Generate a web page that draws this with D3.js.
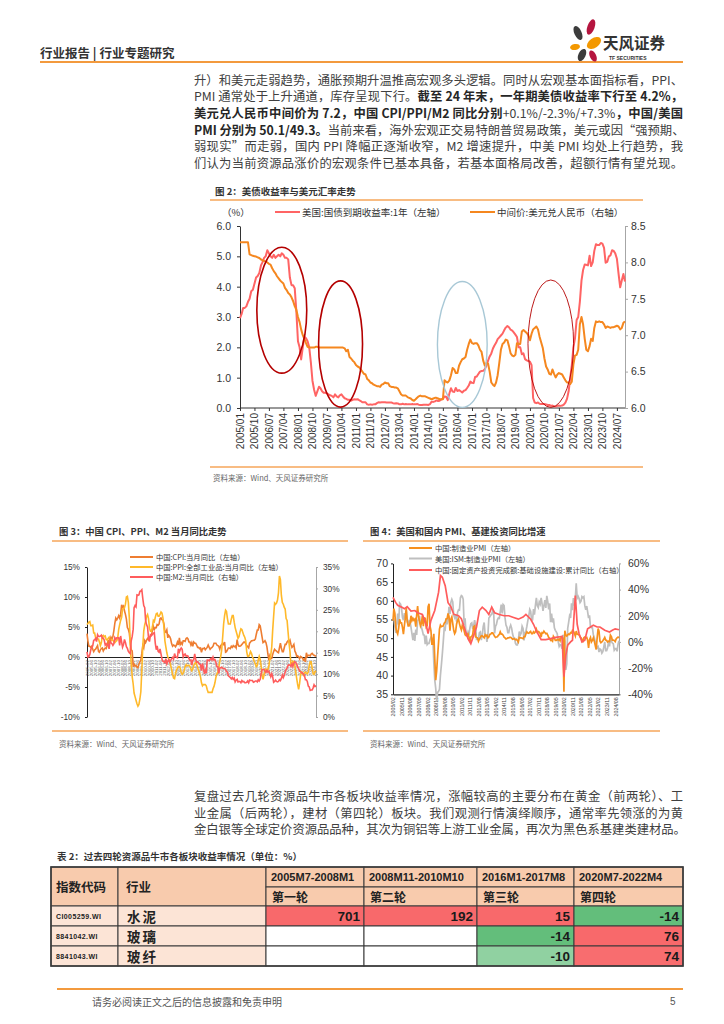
<!DOCTYPE html>
<html><head><meta charset="utf-8"><title>行业专题研究</title>
<script src="https://cdn.jsdelivr.net/npm/d3@7/dist/d3.min.js"></script>
<style>
html,body{margin:0;padding:0;background:#fff}
#wrap{position:relative;width:724px;height:1024px;overflow:hidden;font-family:"Noto Sans CJK SC",sans-serif}
svg{position:absolute;left:0;top:0}
.para{position:absolute;left:194px;width:489px;font-size:12.3px;line-height:16.7px;color:#404040}
.para div{text-align:justify;text-align-last:justify;white-space:nowrap;height:16.7px}
.para b{font-weight:700;color:#262626}
</style></head>
<body><div id="wrap"><svg id="page" width="724" height="1024"></svg>
<div class="para" id="p1" style="top:71.6px"></div>
<div class="para" id="p2" style="top:788px"></div>
</div>
<script>
// ---------------- text ----------------
const para1 = [
 "升）和美元走弱趋势，通胀预期升温推高宏观多头逻辑。同时从宏观基本面指标看，PPI、",
 "PMI 通常处于上升通道，库存呈现下行。<b>截至 24 年末，一年期美债收益率下行至 4.2%，</b>",
 "<b>美元兑人民币中间价为 7.2，中国 CPI/PPI/M2 同比分别</b>+0.1%/-2.3%/+7.3%<b>，中国/美国</b>",
 "<b>PMI 分别为 50.1/49.3。</b>当前来看，海外宏观正交易特朗普贸易政策，美元或因“强预期、",
 "弱现实”而走弱，国内 PPI 降幅正逐渐收窄，M2 增速提升，中美 PMI 均处上行趋势，我",
 "们认为当前资源品涨价的宏观条件已基本具备，若基本面格局改善，超额行情有望兑现。"
];
const para2 = [
 "复盘过去几轮资源品牛市各板块收益率情况，涨幅较高的主要分布在黄金（前两轮）、工",
 "业金属（后两轮），建材（第四轮）板块。我们观测行情演绎顺序，通常率先领涨的为黄",
 "金白银等全球定价资源品品种，其次为铜铝等上游工业金属，再次为黑色系基建类建材品。"
];

// ---------------- chart 1 data (monthly, 2005/01 – 2024/12) ----------------
const chart1Start = "2005-01";
const usYield1Y = [
 2.96,3.10,3.30,3.30,3.35,3.50,3.60,3.85,3.90,4.10,4.30,4.35,
 4.45,4.70,4.80,4.95,5.00,5.20,5.10,5.00,4.95,5.05,4.95,5.00,
 5.05,5.00,5.10,5.05,4.95,4.95,4.90,4.30,4.05,4.05,3.95,3.20,
 2.20,2.00,1.60,2.00,2.35,2.30,2.20,2.00,1.50,0.90,0.60,0.40,
 0.55,0.70,0.65,0.55,0.50,0.50,0.48,0.45,0.42,0.40,0.35,0.45,
 0.38,0.35,0.42,0.45,0.38,0.32,0.30,0.27,0.27,0.24,0.27,0.29,
 0.28,0.29,0.26,0.23,0.19,0.19,0.19,0.12,0.11,0.12,0.11,0.12,
 0.12,0.16,0.19,0.18,0.19,0.19,0.19,0.18,0.18,0.18,0.18,0.16,
 0.15,0.16,0.15,0.12,0.12,0.14,0.12,0.13,0.12,0.12,0.12,0.13,
 0.12,0.12,0.13,0.11,0.10,0.10,0.11,0.11,0.11,0.10,0.13,0.21,
 0.20,0.22,0.25,0.23,0.24,0.28,0.30,0.38,0.37,0.26,0.48,0.65,
 0.54,0.53,0.66,0.56,0.59,0.55,0.51,0.57,0.59,0.66,0.74,0.87,
 0.83,0.82,1.02,1.04,1.12,1.20,1.22,1.23,1.28,1.40,1.56,1.70,
 1.80,1.96,2.06,2.15,2.27,2.33,2.39,2.45,2.56,2.65,2.70,2.66,
 2.58,2.55,2.49,2.42,2.34,2.00,2.00,1.77,1.80,1.61,1.57,1.55,
 1.53,1.41,0.33,0.18,0.16,0.18,0.14,0.13,0.13,0.13,0.12,0.10,
 0.10,0.07,0.08,0.06,0.05,0.07,0.08,0.07,0.08,0.11,0.18,0.30,
 0.55,1.00,1.40,2.00,2.30,2.90,3.00,3.50,4.20,4.55,4.73,4.72,
 4.70,5.02,4.68,4.80,5.18,5.40,5.37,5.37,5.44,5.42,5.28,4.79,
 4.82,5.00,5.03,5.20,5.18,5.09,4.92,4.43,3.98,4.20,4.42,4.17
];
const usdCny = [
 8.2765,8.2765,8.2765,8.2765,8.2765,8.2765,8.11,8.10,8.09,8.085,8.08,8.07,
 8.06,8.04,8.03,8.02,8.01,8.00,7.98,7.97,7.92,7.88,7.85,7.81,
 7.78,7.75,7.73,7.71,7.65,7.62,7.58,7.56,7.52,7.47,7.40,7.35,
 7.25,7.18,7.08,7.00,6.95,6.89,6.84,6.83,6.83,6.83,6.83,6.84,
 6.84,6.83,6.83,6.83,6.83,6.83,6.83,6.83,6.83,6.83,6.83,6.83,
 6.83,6.83,6.83,6.83,6.83,6.82,6.78,6.80,6.70,6.68,6.65,6.63,
 6.59,6.57,6.56,6.53,6.50,6.47,6.46,6.40,6.38,6.35,6.34,6.32,
 6.31,6.30,6.30,6.29,6.32,6.33,6.35,6.34,6.34,6.30,6.29,6.29,
 6.28,6.28,6.27,6.23,6.19,6.17,6.17,6.17,6.15,6.14,6.13,6.11,
 6.10,6.12,6.14,6.16,6.17,6.16,6.16,6.16,6.15,6.14,6.13,6.12,
 6.13,6.14,6.14,6.13,6.12,6.12,6.12,6.38,6.36,6.35,6.38,6.45,
 6.55,6.53,6.48,6.48,6.58,6.63,6.67,6.68,6.70,6.80,6.88,6.94,
 6.89,6.88,6.89,6.89,6.86,6.80,6.77,6.65,6.58,6.62,6.61,6.50,
 6.35,6.32,6.30,6.35,6.45,6.62,6.80,6.88,6.90,6.94,6.93,6.85,
 6.75,6.72,6.71,6.73,6.89,6.88,6.88,7.05,7.07,7.05,7.03,7.00,
 6.93,7.02,7.08,7.10,7.12,7.08,6.98,6.90,6.82,6.68,6.57,6.53,
 6.47,6.46,6.53,6.47,6.42,6.46,6.48,6.47,6.46,6.42,6.38,6.35,
 6.35,6.33,6.36,6.60,6.72,6.73,6.80,7.15,7.25,7.15,6.95,6.80,
 6.78,6.85,6.95,6.92,7.10,7.19,7.18,7.19,7.18,7.18,7.15,7.10,
 7.12,7.11,7.10,7.11,7.11,7.12,7.13,7.12,7.08,7.10,7.17,7.19
];
const chart1XLabels = ["2005/01","2005/10","2006/07","2007/04","2008/01","2008/10","2009/07","2010/04","2011/01","2011/10","2012/07","2013/04","2014/01","2014/10","2015/07","2016/04","2017/01","2017/10","2018/07","2019/04","2020/01","2020/10","2021/07","2022/04","2023/01","2023/10","2024/07"];
const chart1LeftTicks = [0,1,2,3,4,5,6];
const chart1RightTicks = [6.0,6.5,7.0,7.5,8.0,8.5];
const chart1Legend = ["美国:国债到期收益率:1年（左轴）","中间价:美元兑人民币（右轴）"];
// annotation ellipses: date span and left-axis value span
const chart1Circles = [
 {from:"2005-11-15", to:"2008-06-15", lo:1.15, hi:5.3, kind:"dark"},
 {from:"2009-01-25", to:"2011-05-05", lo:0.03, hi:4.19, kind:"dark"},
 {from:"2015-03-20", to:"2017-10-15", lo:0.02, hi:4.17, kind:"blue"},
 {from:"2019-11-25", to:"2022-04-05", lo:0.02, hi:4.22, kind:"thin"}
];

// ---------------- chart 3 data (monthly, 2005/02 – 2024/12) ----------------
const chart3Start = "2005-02";
const cnCPI = [
 3.9,2.7,1.8,1.8,1.6,1.8,1.3,0.9,1.2,1.3,1.6,
 1.9,0.9,0.8,1.2,1.4,1.5,1.0,1.3,1.5,1.4,1.9,2.8,
 2.2,2.7,3.3,3.0,3.4,4.4,5.6,6.5,6.2,6.5,6.9,6.5,
 7.1,8.7,8.3,8.5,7.7,7.1,6.3,4.9,4.6,4.0,2.4,1.2,
 1.0,-1.6,-1.2,-1.5,-1.4,-1.7,-1.8,-1.2,-0.8,-0.5,0.6,1.9,
 1.5,2.7,2.4,2.8,3.1,2.9,3.3,3.5,3.6,4.4,5.1,4.6,
 4.9,4.9,5.4,5.3,5.5,6.4,6.5,6.2,6.1,5.5,4.2,4.1,
 4.5,3.2,3.6,3.4,3.0,2.2,1.8,2.0,1.9,1.7,2.0,2.5,
 2.0,3.2,2.1,2.4,2.1,2.7,2.7,2.6,3.1,3.2,3.0,2.5,
 2.5,2.0,2.4,1.8,2.5,2.3,2.3,2.0,1.6,1.6,1.4,1.5,
 0.8,1.4,1.4,1.5,1.2,1.4,1.6,2.0,1.6,1.3,1.5,1.6,
 1.8,2.3,2.3,2.3,2.0,1.9,1.8,1.3,1.9,2.1,2.3,2.1,
 2.5,0.8,0.9,1.2,1.5,1.5,1.4,1.8,1.6,1.9,1.7,1.8,
 1.5,2.9,2.1,1.8,1.8,1.9,2.1,2.3,2.5,2.5,2.2,1.9,
 1.7,1.5,2.3,2.5,2.7,2.7,2.8,2.8,3.0,3.8,4.5,4.5,
 5.4,5.2,4.3,3.3,2.4,2.5,2.7,2.4,1.7,0.5,-0.5,0.2,
 -0.3,-0.2,0.4,0.9,1.3,1.1,1.0,0.8,0.7,1.5,2.3,1.5,
 0.9,0.9,1.5,2.1,2.1,2.5,2.7,2.5,2.8,2.1,1.6,1.8,
 2.1,1.0,0.7,0.1,0.2,0.0,-0.3,0.1,0.0,-0.2,-0.5,-0.3,
 -0.8,0.7,0.1,0.3,0.3,0.2,0.5,0.6,0.4,0.3,0.2,0.1
];
const cnPPI = [
 5.4,5.6,5.8,5.9,5.2,5.2,5.3,4.0,4.0,3.2,3.2,
 3.0,3.0,2.5,1.9,2.4,3.5,3.6,3.4,3.5,2.9,2.8,3.1,
 3.3,2.6,2.7,2.9,2.8,2.5,2.4,2.6,2.7,3.2,4.6,5.4,
 6.1,6.6,8.0,8.1,8.2,8.8,10.0,10.1,9.1,6.6,2.0,-1.1,
 -3.3,-4.5,-6.0,-6.6,-7.2,-7.8,-8.2,-7.9,-7.0,-5.8,-2.1,1.7,
 4.3,5.4,5.9,6.8,7.1,6.4,4.8,4.3,4.3,5.0,6.1,5.9,
 6.6,7.2,7.3,6.8,6.8,7.1,7.5,7.3,6.5,5.0,2.7,1.7,
 0.7,0.0,-0.3,-0.7,-1.4,-2.1,-2.9,-3.5,-3.6,-2.8,-2.2,-1.9,
 -1.6,-1.6,-1.9,-2.6,-2.9,-2.7,-2.3,-1.6,-1.3,-1.5,-1.4,-1.4,
 -1.6,-2.0,-2.3,-2.0,-1.4,-1.1,-0.9,-1.2,-1.8,-2.2,-2.7,-3.3,
 -4.3,-4.8,-4.6,-4.6,-4.6,-4.8,-5.4,-5.9,-5.9,-5.9,-5.9,-5.9,
 -5.3,-4.9,-4.3,-3.4,-2.8,-2.6,-1.7,-0.8,0.1,1.2,3.3,5.5,
 6.9,7.8,7.6,6.4,5.5,5.5,5.5,6.3,6.9,6.9,5.8,4.9,
 4.3,3.7,3.1,3.4,4.1,4.7,4.6,4.1,3.6,3.3,2.7,0.9,
 0.1,0.1,0.4,0.9,0.6,0.0,-0.3,-0.8,-1.2,-1.6,-1.4,-0.5,
 0.1,-0.4,-1.5,-3.1,-3.7,-3.0,-2.4,-2.0,-2.1,-2.1,-1.5,-0.4,
 0.3,1.7,4.4,6.8,9.0,8.8,9.0,9.5,10.7,13.5,12.9,10.3,
 9.1,8.8,8.3,8.0,6.4,6.1,4.2,2.3,0.9,-1.3,-1.3,-0.7,
 -0.8,-1.4,-2.5,-3.6,-4.6,-5.4,-4.4,-3.0,-2.5,-2.6,-3.0,-2.7,
 -2.5,-2.7,-2.8,-2.5,-1.4,-0.8,-0.8,-1.8,-2.8,-2.9,-2.5,-2.3
];
const cnM2 = [
 15.2,14.0,14.1,14.6,15.7,16.3,16.6,17.9,18.0,18.3,17.6,
 19.2,18.8,18.8,18.9,19.1,18.4,18.4,17.9,16.8,17.1,16.8,16.9,
 15.9,17.8,17.3,17.1,16.7,17.1,18.5,18.1,18.5,18.5,18.5,16.7,
 18.9,17.5,16.3,16.9,18.1,17.4,16.4,16.0,15.3,15.0,14.8,17.8,
 18.8,20.5,25.5,26.0,25.7,28.5,28.4,28.5,29.3,29.4,29.7,27.7,
 26.0,25.5,22.5,21.5,21.0,18.5,17.6,19.2,19.0,19.3,19.5,19.7,
 17.2,15.7,16.6,15.3,15.1,15.9,14.7,13.5,13.0,12.9,12.7,13.6,
 12.4,13.0,13.4,12.8,13.2,13.6,13.9,13.5,14.8,14.1,13.9,13.8,
 15.9,15.2,15.7,16.1,15.8,14.0,14.5,14.7,14.2,14.3,14.2,13.6,
 13.2,13.3,12.1,13.2,13.4,14.7,13.5,12.8,12.9,12.6,12.3,12.2,
 10.8,12.5,11.6,10.1,10.8,10.2,13.3,13.3,13.1,13.5,13.7,13.3,
 14.0,13.3,13.4,12.8,11.8,11.8,10.2,11.4,11.5,11.6,11.4,11.3,
 11.3,11.1,10.6,10.5,9.6,9.4,9.2,8.9,9.2,8.8,9.1,8.2,
 8.6,8.8,8.2,8.3,8.3,8.0,8.5,8.2,8.3,8.0,8.0,8.1,
 8.4,8.0,8.6,8.5,8.5,8.5,8.1,8.2,8.4,8.4,8.2,8.7,
 8.4,8.8,10.1,11.1,11.1,11.1,10.7,10.4,10.9,10.5,10.7,10.1,
 9.4,10.1,9.4,8.1,8.3,8.6,8.3,8.2,8.3,8.7,8.5,9.0,
 9.8,9.2,9.7,10.5,11.1,11.4,12.0,12.2,12.1,11.8,12.4,11.8,
 12.6,12.9,12.7,12.4,11.6,11.3,10.7,10.6,10.3,10.3,10.0,9.7,
 8.7,8.7,8.3,7.2,7.0,6.2,6.3,6.3,6.8,7.5,7.1,7.3
];
const chart3LeftTicks = [-10,-5,0,5,10,15];
const chart3RightTicks = [0,5,10,15,20,25,30,35];
const chart3Legend = ["中国:CPI:当月同比（左轴）","中国:PPI:全部工业品:当月同比（左轴）","中国:M2:当月同比（右轴）"];

// ---------------- chart 4 data (monthly, 2005/02 – 2024/12) ----------------
const chart4Start = "2005-02";
const cnPMI = [
 54.7,57.9,56.7,52.9,51.7,51.1,52.6,55.1,54.1,54.1,52.9,
 51.1,53.4,55.3,58.1,54.8,53.3,53.3,54.0,56.0,54.7,55.3,54.8,
 55.1,53.1,56.1,58.6,55.8,54.5,53.3,54.0,56.1,53.2,55.4,55.3,
 53.0,53.4,58.4,59.2,53.3,52.0,48.4,48.4,51.2,44.6,38.8,41.2,
 45.3,49.0,52.4,53.5,53.1,53.2,53.3,54.0,54.3,55.2,55.2,56.6,
 55.8,52.0,55.1,55.7,53.9,52.1,51.2,51.7,53.8,54.7,55.2,53.9,
 52.9,52.2,53.4,52.9,52.0,50.9,50.7,50.9,51.2,50.4,49.0,50.3,
 50.5,51.0,53.1,53.3,50.4,50.2,50.1,49.2,49.8,50.2,50.6,50.6,
 50.4,50.1,50.9,50.6,50.8,50.1,50.3,51.0,51.1,51.4,51.4,51.0,
 50.5,50.2,50.3,50.4,50.8,51.0,51.7,51.1,51.1,50.8,50.3,50.1,
 49.8,49.9,50.1,50.1,50.2,50.2,50.0,49.7,49.8,49.8,49.6,49.7,
 49.4,49.0,50.2,50.1,50.1,50.0,49.9,50.4,50.4,51.2,51.7,51.4,
 51.3,51.6,51.8,51.2,51.2,51.7,51.4,51.7,52.4,51.6,51.8,51.6,
 51.3,50.3,51.5,51.4,51.9,51.5,51.2,51.3,50.8,50.2,50.0,49.4,
 49.5,49.2,50.5,50.1,49.4,49.4,49.7,49.5,49.8,49.3,50.2,50.2,
 50.0,35.7,52.0,50.8,50.6,50.9,51.1,51.0,51.5,51.4,52.1,51.9,
 51.3,50.6,51.9,51.1,51.0,50.9,50.4,50.1,49.6,49.2,50.1,50.3,
 50.1,50.2,49.5,47.4,49.6,50.2,49.0,49.4,50.1,49.2,48.0,47.0,
 50.1,52.6,51.9,49.2,48.8,49.0,49.3,49.7,50.2,49.5,49.4,49.0,
 49.2,49.1,50.8,50.4,49.5,49.5,49.4,49.1,49.8,50.1,50.3,50.1
];
const usISM = [
 55.3,55.2,53.3,51.4,53.8,56.6,53.6,59.4,59.1,58.1,55.6,
 54.8,56.7,55.2,57.3,54.4,53.8,54.7,54.5,52.9,51.2,49.5,51.4,
 49.3,52.3,50.9,54.7,55.0,56.0,53.8,52.9,52.0,50.9,50.8,48.4,
 50.7,48.3,48.6,48.6,49.6,50.2,50.0,49.9,43.5,38.9,36.6,33.1,
 35.5,35.8,36.3,40.1,42.8,45.8,49.1,52.8,52.4,55.2,53.7,54.9,
 58.4,56.5,59.6,60.4,59.7,56.2,55.5,56.3,54.4,56.9,57.6,57.5,
 60.8,61.4,61.2,60.4,53.5,55.3,50.9,50.6,51.6,50.8,52.7,53.9,
 54.1,52.4,53.4,54.8,53.5,49.7,49.8,49.6,51.5,51.7,49.5,50.7,
 53.1,54.2,51.3,50.7,49.0,50.9,55.4,55.7,56.2,56.4,57.3,57.0,
 51.3,53.2,53.7,54.9,55.4,55.3,57.1,59.0,56.6,59.0,58.7,55.5,
 53.5,52.9,51.5,51.5,52.8,53.5,52.7,51.1,50.2,50.1,48.6,48.2,
 48.2,49.5,51.8,50.8,51.3,53.2,52.6,49.4,51.5,51.9,53.2,54.7,
 56.0,57.7,57.2,54.8,54.9,57.8,56.3,58.8,60.8,58.7,58.2,59.7,
 59.1,60.8,59.3,57.3,58.7,60.2,58.1,61.3,59.8,57.7,59.3,54.3,
 56.6,54.2,55.3,52.8,52.1,51.7,51.2,49.1,47.8,48.3,48.1,47.2,
 50.9,50.1,49.1,41.5,43.1,52.6,54.2,56.0,55.4,59.3,57.5,60.7,
 58.7,60.8,64.7,60.7,61.2,60.6,59.5,59.9,61.1,60.8,61.1,58.7,
 57.6,58.6,57.1,55.4,56.1,53.0,52.8,52.8,50.9,50.2,49.0,48.4,
 47.4,47.7,46.3,47.1,46.9,46.0,46.4,47.6,49.0,46.7,46.7,47.4,
 49.1,47.8,50.3,49.2,48.7,48.5,46.8,47.2,47.2,46.5,48.4,49.3
];
const infraFAI = [
 ["2005-02",34],["2005-05",30],["2005-07",28],["2005-11",26.6],["2006-02",25.3],["2006-05",27],["2006-09",23.6],
 ["2007-01",24],["2007-04",22.3],["2007-09",21],["2008-01",13],["2008-03",6.3],["2008-06",16.5],["2008-10",24],
 ["2009-02",38],["2009-04",50.7],["2009-06",49.4],["2009-09",43],["2009-12",30],["2010-03",27],["2010-06",21.2],
 ["2010-11",20],["2011-02",17.7],["2011-05",11.4],["2011-09",2.5],["2011-12",-1.3],["2012-03",5],["2012-06",11.4],
 ["2012-09",24],["2012-12",26.6],["2013-04",24],["2013-07",21],["2013-10",26.6],["2014-01",22.3],["2014-06",21],
 ["2014-11",20],["2015-04",20],["2015-09",18.7],["2016-02",17.4],["2016-07",19],["2016-10",21],["2017-03",17.4],
 ["2017-06",13.5],["2017-09",8.5],["2018-02",1.8],["2018-07",1.8],["2018-12",2.5],["2019-04",3.3],["2019-09",3.8],
 ["2019-12",4.3],["2020-02",-26.6],["2020-04",-10],["2020-06",-2.5],["2020-09",0],["2020-11",1.3],["2021-02",35.5],
 ["2021-04",13.5],["2021-06",6.3],["2021-09",0],["2021-12",1.3],["2022-03",10],["2022-06",11.4],["2022-09",12.7],
 ["2023-01",11.4],["2023-04",11.4],["2023-09",8.9],["2024-02",7.6],["2024-05",8.9],["2024-08",10],["2024-12",9.3]
];
const chart4LeftTicks = [35,40,45,50,55,60,65,70];
const chart4RightTicks = [-40,-20,0,20,40,60];
const chart4XLabels = ["2005/02","2005/11","2006/08","2007/05","2008/02","2008/11","2009/08","2010/05","2011/02","2011/11","2012/08","2013/05","2014/02","2014/11","2015/08","2016/05","2017/02","2017/11","2018/08","2019/05","2020/02","2020/11","2021/08","2022/05","2023/02","2023/11","2024/08"];
const chart4Legend = ["中国:制造业PMI（左轴）","美国:ISM:制造业PMI（左轴）","中国:固定资产投资完成额:基础设施建设:累计同比（右轴）"];

// ---------------- table data ----------------
const tableCodes = ["CI005259.WI","8841042.WI","8841043.WI"];
const tableIndustries = ["水泥","玻璃","玻纤"];
const tablePeriods = ["2005M7-2008M1","2008M11-2010M10","2016M1-2017M8","2020M7-2022M4"];
const tableRounds = ["第一轮","第二轮","第三轮","第四轮"];
const tableValues = [[701,192,15,-14],[null,null,-14,76],[null,null,-10,74]];

// =====================================================================
d3.select("#p1").selectAll("div").data(para1).join("div").html(d=>d);
d3.select("#p2").selectAll("div").data(para2).join("div").html(d=>d);

const svg = d3.select("#page");
const LAT = '"Liberation Sans","Noto Sans CJK SC",sans-serif';
const CJK = '"Noto Sans CJK SC","Liberation Sans",sans-serif';
const RULE = "#F6A65A";
const parseM = d3.timeParse("%Y-%m");
const parseD = d3.timeParse("%Y-%m-%d");
const parseS = d3.timeParse("%Y/%m");
const monthsFrom = (start, n) => d3.range(n).map(i => d3.timeMonth.offset(parseM(start), i));

function text(g, x, y, s, o = {}) {
  return g.append("text").attr("x", x).attr("y", y)
    .attr("font-family", o.family || CJK).attr("font-size", o.size || 10)
    .attr("font-weight", o.weight || 400).attr("fill", o.fill || "#333")
    .attr("text-anchor", o.anchor || "start").attr("dominant-baseline", "central").text(s);
}
function rule(g, x1, x2, y, w = 1.5, c = RULE) {
  g.append("line").attr("x1", x1).attr("x2", x2).attr("y1", y).attr("y2", y).attr("stroke", c).attr("stroke-width", w);
}
function styleAxis(g, lineColor, size, txtColor) {
  g.attr("font-family", LAT).attr("font-size", size);
  g.select(".domain").attr("stroke", lineColor);
  g.selectAll(".tick line").attr("stroke", lineColor);
  g.selectAll(".tick text").attr("fill", txtColor);
}

// ---------------- header ----------------
text(svg, 40, 52, "行业报告 | 行业专题研究", {size: 12.5, weight: 700, fill: "#333"});
rule(svg, 40, 683, 62, 2, "#F39A3D");
const logo = svg.append("g");
[[578,33,3.6,7.5,-25,"#3c3c3c"],[591,27,3.6,8,20,"#B5153F"],[594,43,4.8,8,55,"#F39800"],
 [575,47,5,3,-10,"#F39800"],[582,55,3.6,6.5,25,"#3c3c3c"],[593,56,3.2,6,-25,"#B5153F"]]
 .forEach(p => logo.append("ellipse").attr("cx", p[0]).attr("cy", p[1]).attr("rx", p[2]).attr("ry", p[3])
   .attr("transform", `rotate(${p[4]},${p[0]},${p[1]})`).attr("fill", p[5]));
text(svg, 603, 42, "天风证券", {size: 15.5, weight: 700, fill: "#333"});
text(svg, 609, 58, "TF SECURITIES", {size: 5, weight: 700, fill: "#333", family: LAT});

// ---------------- chart 1 ----------------
(function () {
  const g = svg.append("g");
  text(g, 215, 191, "图 2：美债收益率与美元汇率走势", {size: 9.5, weight: 700});
  rule(g, 210, 643, 200);
  const dates = monthsFrom(chart1Start, usYield1Y.length);
  const x = d3.scaleTime().domain([dates[0], dates[dates.length - 1]]).range([240, 625]);
  const yL = d3.scaleLinear().domain([0, 6]).range([408, 226]);
  const yR = d3.scaleLinear().domain([6, 8.5]).range([408, 226]);

  text(g, 222, 212, "（%）", {size: 9.5});
  const lc = ["#FF6464", "#F5871F"];
  [[275, chart1Legend[0]], [470, chart1Legend[1]]].forEach((d, i) => {
    g.append("line").attr("x1", d[0]).attr("x2", d[0] + 25).attr("y1", 212).attr("y2", 212).attr("stroke", lc[i]).attr("stroke-width", 2);
    text(g, d[0] + 27, 212, d[1], {size: 9.5});
  });

  const ax = g.append("g").attr("transform", "translate(240,0)")
    .call(d3.axisLeft(yL).tickValues(chart1LeftTicks).tickFormat(d3.format(".1f")).tickSize(3).tickSizeOuter(0).tickPadding(6));
  styleAxis(ax, "#333", 10.5, "#333");
  const ar = g.append("g").attr("transform", "translate(625,0)")
    .call(d3.axisRight(yR).tickValues(chart1RightTicks).tickFormat(d3.format(".1f")).tickSize(3).tickSizeOuter(0).tickPadding(3));
  styleAxis(ar, "#a6a6a6", 10.5, "#333");
  const xb = g.append("g").attr("transform", "translate(0,408)")
    .call(d3.axisBottom(x).tickValues(chart1XLabels.map(parseS)).tickFormat(d3.timeFormat("%Y/%m")).tickSize(3).tickSizeOuter(0));
  styleAxis(xb, "#333", 10, "#333");
  xb.select(".domain").attr("d", `M240,0H625`);
  xb.selectAll(".tick text").attr("transform", "rotate(-90)").attr("text-anchor", "end").attr("x", -5).attr("y", 0).attr("dy", "0.35em");

  g.append("path").datum(usYield1Y).attr("fill", "none").attr("stroke", lc[0]).attr("stroke-width", 2).attr("stroke-linejoin", "round")
    .attr("d", d3.line().x((d, i) => x(dates[i])).y(d => yL(d)));
  g.append("path").datum(usdCny).attr("fill", "none").attr("stroke", lc[1]).attr("stroke-width", 2).attr("stroke-linejoin", "round")
    .attr("d", d3.line().x((d, i) => x(dates[i])).y(d => yR(d)));

  const cs = {dark: ["#B40000", 1.6], blue: ["#A8C8D6", 1.4], thin: ["#B40000", 0.9]};
  chart1Circles.forEach(c => {
    const x0 = x(parseD(c.from)), x1 = x(parseD(c.to)), y0 = yL(c.hi), y1 = yL(c.lo);
    g.append("ellipse").attr("cx", (x0 + x1) / 2).attr("cy", (y0 + y1) / 2).attr("rx", (x1 - x0) / 2).attr("ry", (y1 - y0) / 2)
      .attr("fill", "none").attr("stroke", cs[c.kind][0]).attr("stroke-width", cs[c.kind][1]);
  });
  rule(g, 210, 643, 467);
  text(g, 213, 477, "资料来源：Wind、天风证券研究所", {size: 7.5, fill: "#666"});
})();

// ---------------- chart 3 ----------------
(function () {
  const g = svg.append("g");
  text(g, 59, 531, "图 3：中国 CPI、PPI、M2 当月同比走势", {size: 9.3, weight: 700});
  rule(g, 52, 348, 541);
  const dates = monthsFrom(chart3Start, cnCPI.length);
  const x = d3.scaleTime().domain([dates[0], dates[dates.length - 1]]).range([87, 316]);
  const yL = d3.scaleLinear().domain([-10, 15]).range([717, 567]);
  const yR = d3.scaleLinear().domain([0, 35]).range([717, 567]);
  const cols = ["#EE7D31", "#FFB92A", "#FF5C5C"];
  chart3Legend.forEach((s, i) => {
    const y = 557 + i * 10;
    g.append("line").attr("x1", 130).attr("x2", 153).attr("y1", y).attr("y2", y).attr("stroke", cols[i]).attr("stroke-width", 2);
    text(g, 156, y, s, {size: 7.3});
  });
  const pct = d => d + "%";
  const al = g.append("g").attr("transform", "translate(87,0)")
    .call(d3.axisLeft(yL).tickValues(chart3LeftTicks).tickFormat(pct).tickSize(2).tickSizeOuter(0).tickPadding(5));
  styleAxis(al, "#222", 8.3, "#333");
  const ar = g.append("g").attr("transform", "translate(316,0)")
    .call(d3.axisRight(yR).tickValues(chart3RightTicks).tickFormat(pct).tickSize(2).tickSizeOuter(0).tickPadding(5));
  styleAxis(ar, "#a6a6a6", 8.3, "#333");
  const tickDates = dates.filter((d, i) => i % 4 === 0);
  const xb = g.append("g").attr("transform", `translate(0,${yL(0)})`)
    .call(d3.axisBottom(x).tickValues(tickDates).tickFormat(d3.timeFormat("%Y-%m")).tickSize(0).tickSizeOuter(0));
  styleAxis(xb, "#222", 4.4, "#555");
  xb.select(".domain").attr("stroke-width", 1.2);
  xb.selectAll(".tick text").attr("transform", "rotate(-90)").attr("text-anchor", "end").attr("x", -3).attr("y", 0).attr("dy", "0.35em");
  const lineL = d3.line().x((d, i) => x(dates[i])).y(d => yL(d));
  const lineR = d3.line().x((d, i) => x(dates[i])).y(d => yR(d));
  g.append("path").datum(cnCPI).attr("fill", "none").attr("stroke", cols[0]).attr("stroke-width", 1.6).attr("d", lineL);
  g.append("path").datum(cnPPI).attr("fill", "none").attr("stroke", cols[1]).attr("stroke-width", 1.6).attr("d", lineL);
  g.append("path").datum(cnM2).attr("fill", "none").attr("stroke", cols[2]).attr("stroke-width", 1.6).attr("d", lineR);
  rule(g, 52, 348, 731);
  text(g, 59, 743, "资料来源：Wind、天风证券研究所", {size: 7.5, fill: "#666"});
})();

// ---------------- chart 4 ----------------
(function () {
  const g = svg.append("g");
  text(g, 370, 531, "图 4：美国和国内 PMI、基建投资同比增速", {size: 9.3, weight: 700});
  rule(g, 363, 660, 541);
  const dates = monthsFrom(chart4Start, cnPMI.length);
  const x = d3.scaleTime().domain([dates[0], dates[dates.length - 1]]).range([393, 619]);
  const yL = d3.scaleLinear().domain([35, 70]).range([694.3, 563.4]);
  const yR = d3.scaleLinear().domain([-40, 60]).range([694.3, 563.4]);
  const cols = ["#F7901E", "#BFBFBF", "#FF5C5C"];
  const ly = [548, 558.5, 570];
  chart4Legend.forEach((s, i) => {
    g.append("line").attr("x1", 409).attr("x2", 432).attr("y1", ly[i]).attr("y2", ly[i]).attr("stroke", cols[i]).attr("stroke-width", 2);
    text(g, 435, ly[i], s, {size: 7.3});
  });
  const al = g.append("g").attr("transform", "translate(393,0)")
    .call(d3.axisLeft(yL).tickValues(chart4LeftTicks).tickSize(2).tickSizeOuter(0).tickPadding(3));
  styleAxis(al, "#222", 10.5, "#333");
  const ar = g.append("g").attr("transform", "translate(619,0)")
    .call(d3.axisRight(yR).tickValues(chart4RightTicks).tickFormat(d => d + "%").tickSize(2).tickSizeOuter(0).tickPadding(7));
  styleAxis(ar, "#a6a6a6", 10.5, "#333");
  const xb = g.append("g").attr("transform", "translate(0,694.3)")
    .call(d3.axisBottom(x).tickValues(chart4XLabels.map(parseS)).tickFormat(d3.timeFormat("%Y/%m")).tickSize(0).tickSizeOuter(0));
  styleAxis(xb, "#222", 5.3, "#444");
  xb.select(".domain").attr("stroke-width", 1.2);
  xb.selectAll(".tick text").attr("transform", "rotate(-90)").attr("text-anchor", "end").attr("x", -3).attr("y", 0).attr("dy", "0.35em");
  const lineL = d3.line().x((d, i) => x(dates[i])).y(d => yL(d));
  g.append("path").datum(usISM).attr("fill", "none").attr("stroke", cols[1]).attr("stroke-width", 1.7).attr("d", lineL);
  g.append("path").datum(cnPMI).attr("fill", "none").attr("stroke", cols[0]).attr("stroke-width", 1.7).attr("d", lineL);
  g.append("path").datum(infraFAI).attr("fill", "none").attr("stroke", cols[2]).attr("stroke-width", 1.7)
    .attr("d", d3.line().x(d => x(parseM(d[0]))).y(d => yR(d[1])));
  rule(g, 363, 660, 731);
  text(g, 370, 743, "资料来源：Wind、天风证券研究所", {size: 7.5, fill: "#666"});
})();

// ---------------- table ----------------
(function () {
  const g = svg.append("g");
  text(g, 57, 856, "表 2：过去四轮资源品牛市各板块收益率情况（单位：%）", {size: 9.5, weight: 700});
  const cx = [51, 118, 266, 364, 477, 574, 683];
  const ry = [867, 887, 906, 926, 946, 966];
  const HEAD = "#F8CBAD", SIDE = "#FCE4D6", BORDER = "#3a3a3a";
  const cell = (x0, x1, y0, y1, fill) => g.append("rect").attr("x", x0).attr("y", y0).attr("width", x1 - x0).attr("height", y1 - y0)
    .attr("fill", fill).attr("stroke", BORDER).attr("stroke-width", 1);
  cell(cx[0], cx[1], ry[0], ry[2], HEAD);
  cell(cx[1], cx[2], ry[0], ry[2], HEAD);
  text(g, 56, (ry[0] + ry[2]) / 2, "指数代码", {size: 12.5, weight: 700, fill: "#222"});
  text(g, 126, (ry[0] + ry[2]) / 2, "行业", {size: 12.5, weight: 700, fill: "#222"});
  tablePeriods.forEach((p, j) => {
    cell(cx[j + 2], cx[j + 3], ry[0], ry[1], HEAD);
    cell(cx[j + 2], cx[j + 3], ry[1], ry[2], HEAD);
    text(g, cx[j + 2] + 5, (ry[0] + ry[1]) / 2, p, {size: 11, weight: 700, family: LAT, fill: "#222"});
    text(g, cx[j + 2] + 6, (ry[1] + ry[2]) / 2, tableRounds[j], {size: 12, weight: 700, fill: "#222"});
  });
  const colScale = j => {
    const vals = tableValues.map(r => r[j]).filter(v => v != null);
    const lo = Math.min(0, d3.min(vals)), hi = Math.max(0, d3.max(vals));
    return d3.scaleLinear().domain([lo, 0, hi]).range(["#63BE7B", "#FFFFFF", "#F8696B"]).clamp(true);
  };
  const scales = tablePeriods.map((p, j) => colScale(j));
  tableCodes.forEach((code, i) => {
    const y0 = ry[i + 2], y1 = ry[i + 3], ym = (y0 + y1) / 2;
    cell(cx[0], cx[1], y0, y1, SIDE);
    cell(cx[1], cx[2], y0, y1, SIDE);
    text(g, 56, ym, code, {size: 7, weight: 700, family: LAT, fill: "#222"}).attr("letter-spacing", 0.4);
    text(g, 127, ym, tableIndustries[i], {size: 13.5, weight: 700, fill: "#222"}).attr("letter-spacing", 2);
    tableValues[i].forEach((v, j) => {
      cell(cx[j + 2], cx[j + 3], y0, y1, v == null ? "#FFFFFF" : scales[j](v));
      if (v != null) text(g, cx[j + 3] - 4, ym, String(v), {size: 13.5, weight: 700, family: LAT, anchor: "end", fill: "#1a1a1a"});
    });
  });
  g.append("rect").attr("x", cx[0]).attr("y", ry[0]).attr("width", cx[6] - cx[0]).attr("height", ry[5] - ry[0])
    .attr("fill", "none").attr("stroke", BORDER).attr("stroke-width", 1.6);
})();

// ---------------- footer ----------------
rule(svg, 57, 683, 989, 2, "#F39A3D");
text(svg, 92, 1001, "请务必阅读正文之后的信息披露和免责申明", {size: 10, fill: "#555"});
text(svg, 670, 1001, "5", {size: 10, fill: "#555", family: LAT});
</script>
</body></html>
